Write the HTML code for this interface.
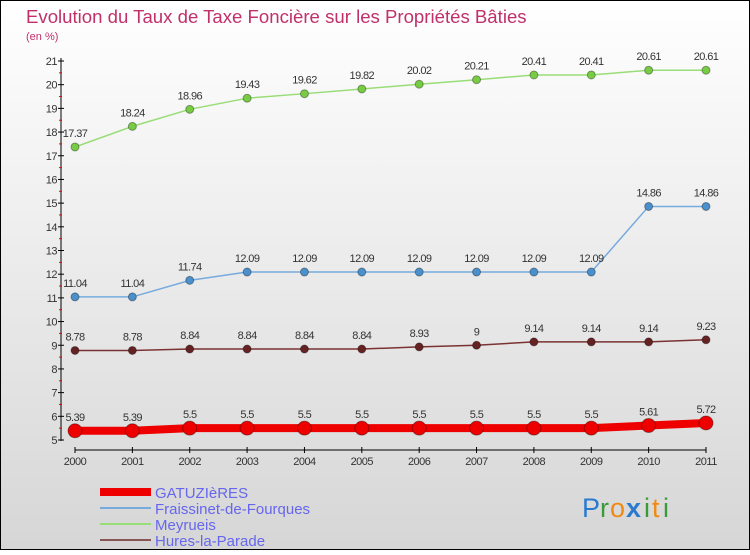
<!DOCTYPE html>
<html><head><meta charset="utf-8"><style>
html,body{margin:0;padding:0}
body{width:750px;height:550px;overflow:hidden;font-family:"Liberation Sans",sans-serif}
</style></head><body>
<svg id="chart" width="750" height="550" xmlns="http://www.w3.org/2000/svg">
<defs><linearGradient id="bg" x1="0" y1="0" x2="0" y2="1"><stop offset="0" stop-color="#ffffff"/><stop offset="1" stop-color="#d6d6d6"/></linearGradient></defs>
<rect x="0.5" y="0.5" width="749" height="549" fill="url(#bg)" stroke="#000"/>
<text x="26" y="23" font-size="18.6" fill="#c0306a">Evolution du Taux de Taxe Foncière sur les Propriétés Bâties</text>
<text x="26" y="40" font-size="11" fill="#c0306a">(en %)</text>
<g id="axes"></g><g id="series"></g><g id="legend"></g>
<g font-size="27" font-family="'Liberation Sans',sans-serif">
<text x="582" y="517" fill="#2a7bd0">P</text><text x="600" y="517" fill="#3a9a3a">r</text><text x="610" y="517" fill="#f08a10">o</text><text x="626" y="517" fill="#2a7bd0" font-weight="bold">x</text><text x="644" y="517" fill="#3a9a3a">i</text><text x="652" y="517" fill="#f08a10">t</text><text x="663" y="517" fill="#3a9a3a">i</text>
</g>
</svg>
<script>
const years=[2000,2001,2002,2003,2004,2005,2006,2007,2008,2009,2010,2011];
const yTicks=[5,6,7,8,9,10,11,12,13,14,15,16,17,18,19,20,21];
const gatuzieres=[5.39,5.39,5.5,5.5,5.5,5.5,5.5,5.5,5.5,5.5,5.61,5.72];
const fraissinet=[11.04,11.04,11.74,12.09,12.09,12.09,12.09,12.09,12.09,12.09,14.86,14.86];
const meyrueis=[17.37,18.24,18.96,19.43,19.62,19.82,20.02,20.21,20.41,20.41,20.61,20.61];
const hures=[8.78,8.78,8.84,8.84,8.84,8.84,8.93,9,9.14,9.14,9.14,9.23];
const NS="http://www.w3.org/2000/svg";
const X=i=>75+i*(706-75)/(years.length-1);
const Y=v=>440-(v-5)*(440-61)/16;
function mk(p,t,a){const e=document.createElementNS(NS,t);for(const k in a)e.setAttribute(k,a[k]);p.appendChild(e);return e;}
const ax=document.getElementById('axes');
let l=mk(ax,'line',{x1:61,y1:58,x2:61,y2:441,stroke:'#000'});


l=mk(ax,'line',{x1:75,y1:450,x2:706,y2:450,stroke:'#000'});


yTicks.forEach((v,i)=>{
 mk(ax,'line',{x1:58,y1:Y(v),x2:64,y2:Y(v),stroke:'#000'});
 if(i<yTicks.length-1)mk(ax,'line',{x1:59,y1:Y(v+0.5),x2:62,y2:Y(v+0.5),stroke:'#e00'});
 const t=mk(ax,'text',{x:57,y:Y(v)+4,'text-anchor':'end','font-size':11,'letter-spacing':-0.5,fill:'#333'});t.textContent=v;
 
 
});
years.forEach((y,i)=>{
 mk(ax,'line',{x1:X(i),y1:447,x2:X(i),y2:453,stroke:'#000'});
 const t=mk(ax,'text',{x:X(i),y:465,'text-anchor':'middle','font-size':11,'letter-spacing':-0.5,fill:'#333'});t.textContent=y;
 
 
});
const sg=document.getElementById('series');
function series(name,data,color,dot,w,r){
 const g=mk(sg,'g',{});
 
 
 mk(g,'polyline',{points:data.map((v,i)=>X(i)+','+Y(v)).join(' '),fill:'none',stroke:color,'stroke-width':w});
 data.forEach((v,i)=>{
  const c=mk(g,'circle',{cx:X(i),cy:Y(v),r:r,fill:dot,stroke:'rgba(0,0,0,0.35)','stroke-width':1});
  
  
  const t=mk(g,'text',{x:X(i),y:Y(v)-10,'text-anchor':'middle','font-size':11,'letter-spacing':-0.6,fill:'#333'});t.textContent=v;
  
  
 });
}
series('meyrueis',meyrueis,'#99dd77','#77cc44',1.5,4);
series('fraissinet',fraissinet,'#77aadd','#4a90cc',1.5,4);
series('hures',hures,'#7a3333','#662222',1.5,4);
series('gatuzieres',gatuzieres,'#ee0000','#ee0000',8,7);
const lg=document.getElementById('legend');
[['GATUZIèRES','#ee0000',8],['Fraissinet-de-Fourques','#77aadd',2],['Meyrueis','#99dd77',2],['Hures-la-Parade','#885555',2]].forEach((d,i)=>{
 const y=492+i*16;
 const g=mk(lg,'g',{});
 
 
 mk(g,'line',{x1:100,y1:y,x2:151,y2:y,stroke:d[1],'stroke-width':d[2]});
 const t=mk(g,'text',{x:155,y:y+6,'font-size':15,fill:'#6666ee'});t.textContent=d[0];
});
</script>
</body></html>
